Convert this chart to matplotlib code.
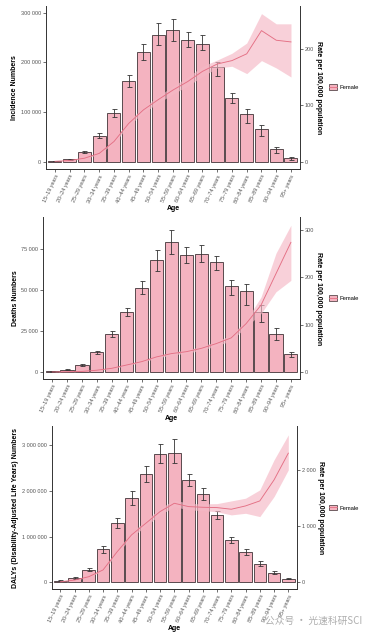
import matplotlib
matplotlib.use("Agg")
import matplotlib.pyplot as plt
import numpy as np
from matplotlib.ticker import FuncFormatter
from matplotlib.patches import Patch
from matplotlib.lines import Line2D

ages = ["15–19 years", "20–24 years", "25–29 years", "30–34 years", "35–39 years",
        "40–44 years", "45–49 years", "50–54 years", "55–59 years", "60–64 years",
        "65–69 years", "70–74 years", "75–79 years", "80–84 years", "85–89 years",
        "90–94 years", "95+ years"]

# incidence
inc_num = [2000, 5400, 20000, 52000, 98000, 162000, 220000, 255000, 265000, 245000,
           237600, 190000, 128000, 96600, 66400, 26000, 8000]
inc_lo = [1500, 4700, 17400, 47600, 91000, 150000, 204700, 235600, 244000, 231500,
          224000, 171800, 118800, 77900, 52300, 18800, 4700]
inc_hi = [2500, 6700, 22800, 57700, 106000, 174500, 237000, 279000, 287000, 261700,
          255000, 200700, 137600, 107400, 74500, 30200, 10000]
inc_rate = [1, 2.5, 6.5, 15, 36, 68, 92, 110, 127, 142, 160, 173, 179, 191, 232, 215, 212]
inc_rate_lo = [0.8, 2.1, 5.8, 13.5, 33, 64, 87, 104, 120, 134, 151, 166, 169, 156, 179, 166, 150]
inc_rate_hi = [1.2, 2.9, 7.2, 16.5, 39, 72, 97, 116, 134, 150, 169, 180, 192, 210, 262, 244, 244]

# deaths
dth_num = [500, 1500, 4200, 12000, 23000, 36500, 51500, 68500, 79500, 71500,
           72000, 67000, 52500, 49500, 37000, 23500, 11000]
dth_lo = [350, 1200, 3700, 11000, 21500, 34000, 47500, 62000, 72000, 66500,
          67000, 62500, 47000, 41000, 30500, 19500, 9000]
dth_hi = [650, 1800, 4700, 13200, 25000, 39000, 55500, 74500, 87000, 76500,
          77500, 71000, 56000, 54000, 41000, 26800, 12500]
dth_rate = [0.3, 0.7, 1.5, 4, 8, 15, 22, 32, 39, 43, 50, 60, 72, 102, 141, 207, 273]
dth_rate_lo = [0.25, 0.6, 1.3, 3.6, 7.3, 13.8, 20.3, 29.5, 36, 39.5, 46, 55, 66, 95, 123, 169, 193]
dth_rate_hi = [0.35, 0.8, 1.7, 4.4, 8.7, 16.2, 23.7, 34.5, 42, 46.5, 54, 65, 78, 109, 158, 250, 309]

# DALYs
daly_num = [40000, 100000, 280000, 720000, 1290000, 1850000, 2370000, 2800000, 2840000,
            2240000, 1930000, 1470000, 930000, 670000, 410000, 210000, 80000]
daly_lo = [30000, 80000, 240000, 650000, 1190000, 1700000, 2200000, 2600000, 2600000,
           2100000, 1800000, 1380000, 850000, 600000, 350000, 180000, 65000]
daly_hi = [50000, 120000, 320000, 790000, 1400000, 2000000, 2540000, 3020000, 3130000,
           2380000, 2060000, 1570000, 1000000, 740000, 460000, 240000, 95000]
daly_rate = [10, 40, 100, 220, 546, 843, 1050, 1258, 1406, 1347, 1335, 1329, 1300, 1359,
             1448, 1822, 2297]
daly_rate_lo = [9, 36, 92, 205, 515, 800, 1000, 1200, 1345, 1290, 1275, 1255, 1199, 1228,
                1169, 1525, 2000]
daly_rate_hi = [11, 44, 108, 235, 577, 886, 1100, 1316, 1467, 1404, 1395, 1400, 1448, 1496,
                1644, 2178, 2623]

plt.rcParams['font.family'] = ['Liberation Sans', 'DejaVu Sans']

bar_col = "#F4B3C0"
edge_col = "#5a4a4e"
line_col = "#E46F84"
band_col = "#F5B8C5"
tick_col = "#555555"

fmt = FuncFormatter(lambda v, p: f"{int(round(v)):,}".replace(",", " "))

panels = [
    dict(rect=[0.124, 0.734, 0.682, 0.257], num=inc_num, lo=inc_lo, hi=inc_hi,
         rate=inc_rate, rlo=inc_rate_lo, rhi=inc_rate_hi, ylabel="Incidence Numbers",
         ylim=(-14000, 314000), yt=[0, 100000, 200000, 300000],
         rlim=(-12.4, 276), rt=[0, 100, 200]),
    dict(rect=[0.116, 0.403, 0.690, 0.255], num=dth_num, lo=dth_lo, hi=dth_hi,
         rate=dth_rate, rlo=dth_rate_lo, rhi=dth_rate_hi, ylabel="Deaths Numbers",
         ylim=(-4270, 94700), yt=[0, 25000, 50000, 75000],
         rlim=(-14.7, 326), rt=[0, 100, 200, 300]),
    dict(rect=[0.139, 0.0724, 0.659, 0.256], num=daly_num, lo=daly_lo, hi=daly_hi,
         rate=daly_rate, rlo=daly_rate_lo, rhi=daly_rate_hi,
         ylabel="DALYs (Disability-Adjusted Life Years) Numbers",
         ylim=(-146000, 3410000), yt=[0, 1000000, 2000000, 3000000],
         rlim=(-119, 2772), rt=[0, 1000, 2000]),
]

fig = plt.figure(figsize=(3.72, 6.35), dpi=100)
x = np.arange(len(ages))

for p in panels:
    ax = fig.add_axes(p["rect"])
    num = np.array(p["num"])
    err = [num - np.array(p["lo"]), np.array(p["hi"]) - num]
    ax.bar(x, num, width=0.88, color=bar_col, edgecolor=edge_col, linewidth=0.7)
    ax.errorbar(x, num, yerr=err, fmt="none", ecolor="#333333", elinewidth=0.6,
                capsize=1.8, capthick=0.6)
    ax.set_xlim(-0.6, len(ages) - 0.4)
    ax.set_ylim(*p["ylim"])
    ax.set_yticks(p["yt"])
    ax.yaxis.set_major_formatter(fmt)
    ax.set_xticks(x)
    ax.set_xticklabels(ages, rotation=65, ha="right", rotation_mode="anchor")
    ax.set_ylabel(p["ylabel"], fontsize=5, fontweight="bold", labelpad=2)
    ax.set_xlabel("Age", fontsize=5, fontweight="bold", labelpad=1)
    for s in ["top", "right"]:
        ax.spines[s].set_visible(False)

    ax2 = ax.twinx()
    ax2.fill_between(x, p["rlo"], p["rhi"], color=band_col, alpha=0.65, linewidth=0)
    ax2.plot(x, p["rate"], color=line_col, linewidth=0.65)
    ax2.set_ylim(*p["rlim"])
    ax2.set_yticks(p["rt"])
    ax2.yaxis.set_major_formatter(fmt)
    ax2.set_ylabel("Rate per 100,000 population", fontsize=5, fontweight="bold",
                   rotation=270, labelpad=6)
    for s in ["top", "left"]:
        ax2.spines[s].set_visible(False)

    for a in (ax, ax2):
        a.tick_params(labelsize=4, labelcolor=tick_col, length=2, width=0.5,
                      pad=1.5, color="#333333")
        for s in a.spines.values():
            s.set_linewidth(0.7)
            s.set_color("#333333")

    handle = (Patch(facecolor=bar_col, edgecolor=edge_col, linewidth=0.6),
              Line2D([], [], color=line_col, linewidth=0.6))
    cy = p["rect"][1] + p["rect"][3] / 2
    ax.legend([handle], ["Female"], loc="center left", bbox_to_anchor=(0.87, cy),
              bbox_transform=fig.transFigure, frameon=False, fontsize=4.2,
              handlelength=1.4, handleheight=1.1, handletextpad=0.4)

fig.text(0.975, 0.022, "公众号 · 光速科研SCI", fontsize=7, color="#9a9a9a", alpha=0.8,
         ha="right", va="center", family=["Noto Sans CJK SC", "DejaVu Sans"])

fig.savefig("out.png", dpi=100)
